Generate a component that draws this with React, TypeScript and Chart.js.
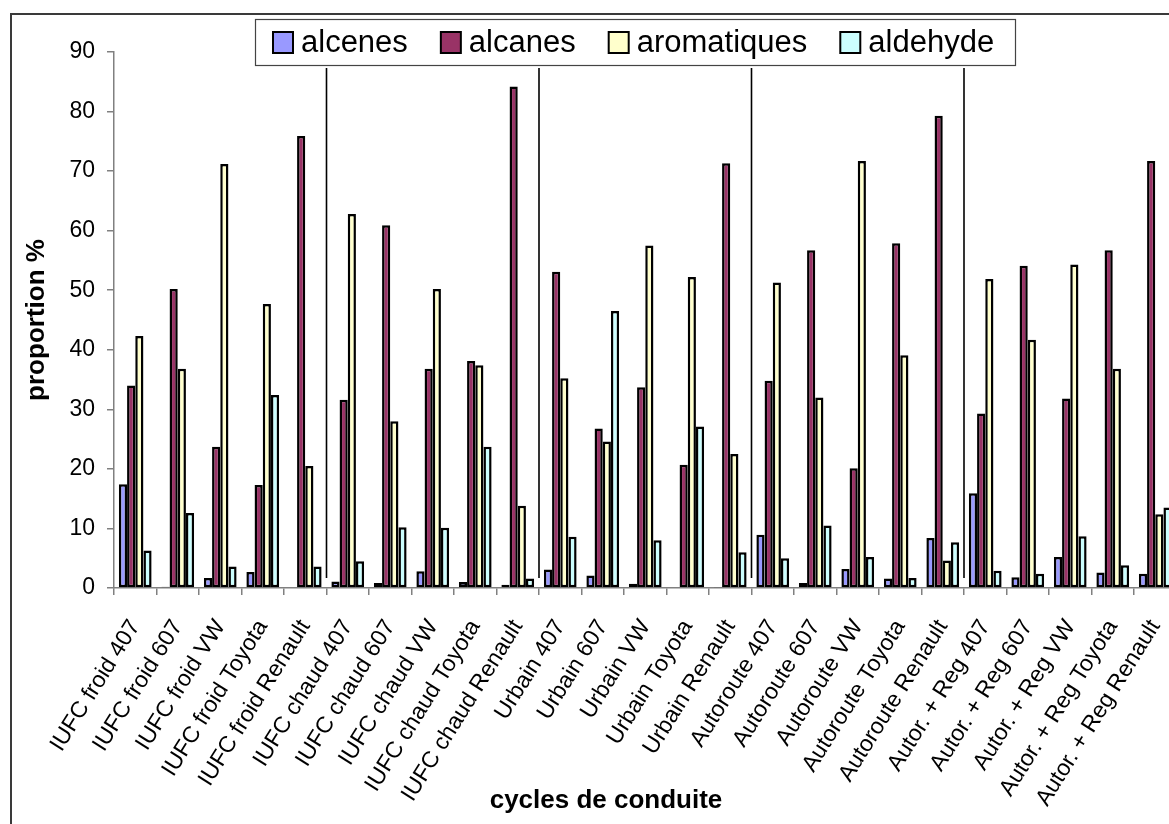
import React, { useEffect, useRef } from 'react';
import { Chart, registerables } from 'chart.js';

Chart.register(...registerables);

const CATEGORIES = [
  'IUFC froid 407', 'IUFC froid 607', 'IUFC froid VW', 'IUFC froid Toyota', 'IUFC froid Renault',
  'IUFC chaud 407', 'IUFC chaud 607', 'IUFC chaud VW', 'IUFC chaud Toyota', 'IUFC chaud Renault',
  'Urbain 407', 'Urbain 607', 'Urbain VW', 'Urbain Toyota', 'Urbain Renault',
  'Autoroute 407', 'Autoroute 607', 'Autoroute VW', 'Autoroute Toyota', 'Autoroute Renault',
  'Autor. + Reg 407', 'Autor. + Reg 607', 'Autor. + Reg VW', 'Autor. + Reg Toyota', 'Autor. + Reg Renault',
];

const ALCENES = [17.4, 0.2, 1.7, 2.7, 0, 1.1, 0.85, 2.8, 1.0, 0.55, 3.1, 2.1, 0.7, 0, 0.1, 8.95, 0.85, 3.2, 1.6, 8.4, 15.9, 1.8, 5.2, 2.6, 2.4];
const ALCANES = [34.0, 50.2, 23.7, 17.3, 75.9, 31.6, 60.9, 36.8, 38.1, 84.2, 53.1, 26.8, 33.7, 20.7, 71.3, 34.8, 56.7, 20.1, 57.9, 79.3, 29.3, 54.1, 31.8, 56.7, 71.7];
const AROMATIQUES = [42.3, 36.8, 71.2, 47.7, 20.5, 62.8, 28.0, 50.2, 37.4, 13.8, 35.2, 24.6, 57.5, 52.2, 22.5, 51.3, 32.0, 71.7, 39.1, 4.6, 51.9, 41.7, 54.3, 36.8, 12.4];
const ALDEHYDE = [6.3, 12.6, 3.6, 32.4, 3.6, 4.5, 10.2, 10.1, 23.7, 1.6, 8.6, 46.5, 8.0, 27.1, 6.0, 5.0, 10.5, 5.2, 1.7, 7.7, 2.9, 2.4, 8.7, 3.8, 13.5];

const SERIES_LABELS = ['alcenes', 'alcanes', 'aromatiques', 'aldehyde'];
const SERIES_COLORS = ['#9999FF', '#993366', '#FFFFCC', '#CCFFFF'];

const Y_MIN = 0;
const Y_MAX = 90;
const Y_STEP = 10;

const Y_TITLE = 'proportion %';
const X_TITLE = 'cycles de conduite';

// separators placed after these category counts
const SEPARATOR_AFTER = [5, 10, 15, 20];
const SEPARATOR_RANGE = [1.7, 87.3];

const FONT = '"Liberation Sans", Arial, Helvetica, sans-serif';
const CANVAS_W = 1200;
const CANVAS_H = 824;

const decorPlugin = {
  id: 'decor',
  beforeDraw(chart: any) {
    const ctx = chart.ctx;
    ctx.save();
    ctx.fillStyle = '#ffffff';
    ctx.fillRect(0, 0, chart.width, chart.height);
    ctx.strokeStyle = '#3a3a3a';
    ctx.lineWidth = 2;
    ctx.beginPath();
    ctx.moveTo(11, chart.height);
    ctx.lineTo(11, 14);
    ctx.lineTo(chart.width, 14);
    ctx.stroke();
    ctx.restore();
  },
  afterDatasetsDraw(chart: any) {
    const ctx = chart.ctx;
    const x = chart.scales.x;
    const y = chart.scales.y;
    ctx.save();
    ctx.strokeStyle = '#000';
    ctx.lineWidth = 1.6;
    SEPARATOR_AFTER.forEach((n) => {
      const px = (x.getPixelForValue(n - 1) + x.getPixelForValue(n)) / 2;
      ctx.beginPath();
      ctx.moveTo(px, y.getPixelForValue(SEPARATOR_RANGE[1]));
      ctx.lineTo(px, y.getPixelForValue(SEPARATOR_RANGE[0]));
      ctx.stroke();
    });
    ctx.restore();
  },
  afterDraw(chart: any) {
    const ctx = chart.ctx;
    ctx.save();
    // legend box
    const bx = 255, by = 19, bw = 760, bh = 46;
    ctx.fillStyle = '#fff';
    ctx.fillRect(bx, by, bw, bh);
    ctx.strokeStyle = '#444';
    ctx.lineWidth = 1.2;
    ctx.strokeRect(bx + 0.5, by + 0.5, bw, bh);
    ctx.font = `31px ${FONT}`;
    ctx.textBaseline = 'middle';
    ctx.textAlign = 'left';
    let cx = 273;
    const cy = by + bh / 2;
    chart.data.datasets.forEach((ds: any) => {
      ctx.fillStyle = ds.backgroundColor;
      ctx.fillRect(cx, cy - 10, 20, 21);
      ctx.strokeStyle = '#000';
      ctx.lineWidth = 2;
      ctx.strokeRect(cx, cy - 10, 20, 21);
      ctx.fillStyle = '#000';
      ctx.fillText(ds.label, cx + 28, cy + 1);
      cx += 28 + ctx.measureText(ds.label).width + 33;
    });
    // x axis title
    ctx.font = `bold 26px ${FONT}`;
    ctx.textAlign = 'center';
    ctx.textBaseline = 'middle';
    ctx.fillStyle = '#000';
    ctx.fillText(X_TITLE, 606, 801);
    ctx.restore();
  },
};

export default function App() {
  const ref = useRef<HTMLCanvasElement | null>(null);

  useEffect(() => {
    if (!ref.current) return;
    Chart.defaults.font.family = FONT;
    const seriesValues = [ALCENES, ALCANES, AROMATIQUES, ALDEHYDE];
    const chart = new Chart(ref.current, {
      type: 'bar',
      data: {
        labels: CATEGORIES,
        datasets: seriesValues.map((vals, i) => ({
          label: SERIES_LABELS[i],
          data: vals,
          backgroundColor: SERIES_COLORS[i],
          borderColor: '#000',
          borderWidth: 2.5,
          borderSkipped: false,
          categoryPercentage: 0.77,
          barPercentage: 1,
        })),
      },
      options: {
        responsive: false,
        animation: false,
        events: [],
        layout: { padding: { left: 0, top: 52, right: CANVAS_W - 1176.5, bottom: 0 } },
        plugins: {
          legend: { display: false },
          tooltip: { enabled: false },
          title: { display: false },
        },
        scales: {
          x: {
            offset: true,
            grid: { offset: true, drawOnChartArea: false, drawTicks: true, tickLength: 7, color: '#808080', lineWidth: 1.5 },
            border: { color: '#808080', width: 1.5 },
            ticks: {
              autoSkip: false,
              maxRotation: 58,
              minRotation: 58,
              padding: 20,
              color: '#000',
              font: { size: 23, family: FONT },
            },
            afterFit: (s: any) => { s.height = CANVAS_H - 588; },
          },
          y: {
            min: Y_MIN,
            max: Y_MAX,
            ticks: { stepSize: Y_STEP, padding: 12, color: '#000', font: { size: 23, family: FONT } },
            grid: { drawOnChartArea: false, drawTicks: true, tickLength: 7, color: '#808080', lineWidth: 1.5 },
            border: { color: '#808080', width: 1.5 },
            title: {
              display: true,
              text: Y_TITLE,
              color: '#000',
              font: { size: 26, weight: 'bold', family: FONT },
              padding: { top: 21, bottom: 0 },
            },
            afterFit: (s: any) => { s.width = 114; },
          },
        },
      },
      plugins: [decorPlugin],
    } as any);
    return () => chart.destroy();
  }, []);

  return (
    <div style={{ position: 'fixed', left: 0, top: 0, width: 1169, height: 824, overflow: 'hidden', background: '#fff' }}>
      <canvas ref={ref} width={CANVAS_W} height={CANVAS_H} style={{ display: 'block', width: CANVAS_W, height: CANVAS_H }} />
    </div>
  );
}
